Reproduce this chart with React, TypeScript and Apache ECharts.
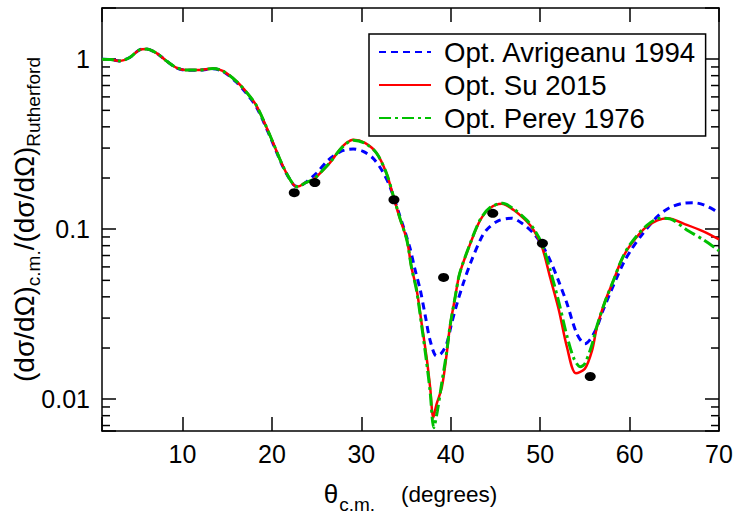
import React, { useEffect, useRef } from "react";
import * as echarts from "echarts";

const X_MIN = 1;
const X_MAX = 70;
const Y_MIN = 0.0065;
const Y_MAX = 2;

const suAngles = [1, 2, 2.97, 4.1, 5.2, 5.95, 7.1, 8.2, 9.3, 10.4, 11.9, 13.4, 14.5, 16.0, 17.2, 18.3, 19.9, 21.25, 22.4, 22.9, 23.7, 24.6, 25.6, 26.5, 27.6, 28.35, 29.1, 30.4, 31.7, 32.8, 33.6, 34.3, 35.1, 35.6, 36.2, 36.75, 37.3, 37.7, 38.05, 38.4, 39.0, 39.55, 39.9, 40.5, 41.0, 42.2, 43.3, 44.4, 45.7, 47.0, 48.5, 49.25, 50.2, 51.1, 52.1, 53.0, 54.0, 55.0, 55.8, 56.35, 57.3, 58.2, 59.1, 60.1, 61.9, 64.2, 66.4, 68.3, 70];
const suValues = [1.0, 0.995, 0.977, 1.023, 1.135, 1.146, 1.085, 0.977, 0.893, 0.864, 0.864, 0.881, 0.853, 0.744, 0.636, 0.53, 0.345, 0.234, 0.183, 0.178, 0.187, 0.195, 0.219, 0.246, 0.294, 0.322, 0.336, 0.322, 0.281, 0.214, 0.155, 0.116, 0.0863, 0.06, 0.0437, 0.0278, 0.0176, 0.0117, 0.0078, 0.0093, 0.0117, 0.0185, 0.0265, 0.04, 0.0549, 0.0826, 0.113, 0.133, 0.141, 0.13, 0.111, 0.099, 0.0788, 0.0524, 0.0333, 0.0202, 0.0142, 0.0151, 0.0193, 0.0265, 0.0382, 0.05, 0.0658, 0.0807, 0.1035, 0.116, 0.106, 0.0967, 0.087];

const pereyAngles = [1, 2, 2.97, 4.1, 5.2, 5.95, 7.1, 8.2, 9.3, 10.4, 11.9, 13.4, 14.5, 16.0, 17.2, 18.3, 19.9, 21.25, 22.4, 22.9, 23.7, 24.6, 25.6, 26.5, 27.6, 28.35, 29.1, 30.4, 31.7, 32.8, 33.6, 34.3, 35.1, 35.6, 36.2, 36.75, 37.3, 37.7, 38.1, 38.5, 39.0, 39.55, 39.9, 40.5, 41.0, 42.2, 43.3, 44.4, 45.8, 47.0, 48.5, 49.3, 50.2, 51.1, 52.1, 53.0, 53.8, 54.5, 55.0, 55.8, 56.35, 57.3, 58.2, 59.1, 60.1, 61.9, 63.4, 64.5, 66.4, 68.3, 70];
const pereyValues = [1.0, 0.995, 0.977, 1.023, 1.135, 1.146, 1.085, 0.977, 0.893, 0.864, 0.864, 0.881, 0.853, 0.744, 0.636, 0.53, 0.345, 0.234, 0.183, 0.177, 0.187, 0.196, 0.22, 0.247, 0.293, 0.32, 0.334, 0.32, 0.28, 0.214, 0.156, 0.117, 0.086, 0.06, 0.043, 0.027, 0.0165, 0.011, 0.0068, 0.0085, 0.0125, 0.019, 0.0265, 0.04, 0.055, 0.083, 0.114, 0.134, 0.142, 0.132, 0.113, 0.1, 0.082, 0.058, 0.037, 0.0235, 0.0172, 0.0155, 0.0162, 0.021, 0.027, 0.038, 0.05, 0.066, 0.082, 0.105, 0.116, 0.115, 0.099, 0.0863, 0.0746];

const avrAngles = [1, 2, 2.97, 4.1, 5.2, 5.95, 7.1, 8.2, 9.3, 10.4, 11.9, 13.4, 14.5, 16.0, 17.2, 18.3, 19.9, 21.25, 22.4, 22.9, 23.7, 25.0, 26.3, 27.6, 28.4, 29.1, 30.2, 31.3, 32.3, 33.2, 34.3, 35.4, 36.0, 36.6, 37.2, 37.7, 38.4, 38.9, 39.55, 40.1, 40.7, 41.4, 42.2, 43.3, 44.0, 45.3, 46.8, 48.0, 49.25, 50.2, 51.1, 52.1, 53.0, 54.1, 55.0, 55.6, 56.35, 57.0, 57.8, 59.3, 60.2, 61.2, 63.1, 64.5, 66.0, 67.2, 68.3, 69.8, 70];
const avrValues = [1.0, 0.995, 0.977, 1.023, 1.135, 1.146, 1.085, 0.977, 0.89, 0.862, 0.862, 0.878, 0.848, 0.735, 0.625, 0.52, 0.34, 0.232, 0.183, 0.178, 0.187, 0.214, 0.255, 0.285, 0.294, 0.296, 0.287, 0.262, 0.222, 0.178, 0.12, 0.0788, 0.058, 0.0437, 0.03, 0.0221, 0.018, 0.0185, 0.0212, 0.028, 0.0365, 0.048, 0.063, 0.0863, 0.099, 0.112, 0.116, 0.108, 0.0946, 0.081, 0.0658, 0.049, 0.0365, 0.0243, 0.0212, 0.0225, 0.0265, 0.033, 0.0418, 0.063, 0.076, 0.0903, 0.1186, 0.134, 0.142, 0.143, 0.139, 0.127, 0.125];

const expAngles = [22.5, 24.8, 33.65, 39.2, 44.7, 50.25, 55.6];
const expValues = [0.164, 0.188, 0.149, 0.052, 0.124, 0.0826, 0.0136];

const minorTickValues = [0.007, 0.008, 0.009, 0.02, 0.03, 0.04, 0.05, 0.06, 0.07, 0.08, 0.09, 0.2, 0.3, 0.4, 0.5, 0.6, 0.7, 0.8, 0.9];

const SERIES_NAMES = ["Opt. Avrigeanu 1994", "Opt. Su 2015", "Opt. Perey 1976"];

const FONT = "'Liberation Sans', Arial, Helvetica, sans-serif";

const zip = (xs: number[], ys: number[]) => xs.map((x, i) => [x, ys[i]]);

const yLabel = (v: number) => {
  const l = Math.log10(v);
  const e = Math.round(l);
  if (Math.abs(l - e) > 1e-6) return "";
  return e >= 0 ? String(Math.pow(10, e)) : Math.pow(10, e).toFixed(-e);
};

export default function App() {
  const ref = useRef<HTMLDivElement>(null);
  useEffect(() => {
    if (!ref.current) return;
    const chart = echarts.init(ref.current, undefined, { renderer: "svg" });
    const axisLine = { show: true, lineStyle: { color: "#000", width: 1.5 } };
    const tick = { show: true, inside: true, length: 14, lineStyle: { color: "#000", width: 1.5 } };
    chart.setOption({
      animation: false,
      backgroundColor: "#fff",
      grid: { left: 102, right: 18, top: 8, bottom: 85, containLabel: false, outerBoundsMode: "none" },
      legend: {
        data: SERIES_NAMES,
        orient: "vertical",
        left: 369,
        top: 34,
        itemWidth: 52,
        itemHeight: 14,
        itemGap: 3,
        padding: [3, 9, 3, 9],
        borderColor: "#000",
        borderWidth: 1.5,
        backgroundColor: "#fff",
        selectedMode: false,
        itemStyle: { opacity: 0 },
        textStyle: { fontSize: 27.6, fontFamily: FONT, color: "#000", padding: [0, 0, 0, 8], lineHeight: 30 },
      },
      xAxis: [
        {
          type: "value",
          min: X_MIN,
          max: X_MAX,
          minInterval: 10,
          maxInterval: 10,
          position: "bottom",
          axisLine,
          axisTick: tick,
          splitLine: { show: false },
          axisLabel: {
            fontSize: 25,
            fontFamily: FONT,
            color: "#000",
            margin: 10,
            formatter: (v: number) => (Math.abs(v % 10) < 1e-9 ? String(v) : ""),
          },
          name: "{t|θ}{s|c.m.}{m|(degrees)}",
          nameLocation: "middle",
          nameGap: 50,
          nameMoveOverlap: false,
          nameTextStyle: {
            color: "#000",
            fontFamily: FONT,
            rich: {
              t: { fontSize: 26, lineHeight: 26, fontFamily: FONT, color: "#000" },
              m: { fontSize: 22.5, lineHeight: 26, fontFamily: FONT, color: "#000", padding: [0, 0, 0, 26] },
              s: { fontSize: 19, lineHeight: 19, padding: [14, 0, 0, 1], verticalAlign: "top", fontFamily: FONT, color: "#000" },
            },
          },
        },
        {
          type: "value",
          min: X_MIN,
          max: X_MAX,
          minInterval: 10,
          maxInterval: 10,
          position: "top",
          axisLine,
          axisTick: tick,
          splitLine: { show: false },
          axisLabel: { show: false },
        },
      ],
      yAxis: [
        {
          type: "log",
          min: Y_MIN,
          max: Y_MAX,
          position: "left",
          axisLine,
          axisTick: tick,
          splitLine: { show: false },
          axisLabel: { fontSize: 25, fontFamily: FONT, color: "#000", margin: 12, formatter: yLabel },
          name: "{m|(dσ/dΩ)}{s|c.m.}{m|/(dσ/dΩ)}{s|Rutherford}",
          nameLocation: "middle",
          nameRotate: 90,
          nameGap: 64,
          nameMoveOverlap: false,
          nameTextStyle: {
            color: "#000",
            fontFamily: FONT,
            rich: {
              m: { fontSize: 28, lineHeight: 28, fontFamily: FONT, color: "#000" },
              s: { fontSize: 19, lineHeight: 19, padding: [14, 0, 0, 0], verticalAlign: "top", fontFamily: FONT, color: "#000" },
            },
          },
        },
        {
          type: "log",
          min: Y_MIN,
          max: Y_MAX,
          position: "right",
          axisLine,
          axisTick: tick,
          splitLine: { show: false },
          axisLabel: { show: false },
        },
      ],
      series: [
        {
          type: "custom",
          name: "minorTicks",
          silent: true,
          clip: false,
          xAxisIndex: 0,
          yAxisIndex: 0,
          data: minorTickValues.map((v) => [X_MIN, v]),
          encode: { x: 0, y: 1 },
          renderItem: (_p: any, api: any) => {
            const v = api.value(1);
            const l = api.coord([X_MIN, v]);
            const r = api.coord([X_MAX, v]);
            const st = { stroke: "#000", lineWidth: 1.5 };
            return {
              type: "group",
              children: [
                { type: "line", shape: { x1: l[0], y1: l[1], x2: l[0] + 8, y2: l[1] }, style: st },
                { type: "line", shape: { x1: r[0] - 8, y1: r[1], x2: r[0], y2: r[1] }, style: st },
              ],
            };
          },
        },
        {
          type: "line",
          name: SERIES_NAMES[0],
          data: zip(avrAngles, avrValues),
          showSymbol: false,
          symbol: "none",
          smooth: 0.3,
          lineStyle: { color: "#0000ff", width: 3, type: [7, 5] },
          itemStyle: { color: "#0000ff" },
          z: 3,
        },
        {
          type: "line",
          name: SERIES_NAMES[1],
          data: zip(suAngles, suValues),
          showSymbol: false,
          symbol: "none",
          smooth: 0.3,
          lineStyle: { color: "#ff0000", width: 2.5, type: "solid" },
          itemStyle: { color: "#ff0000" },
          z: 4,
        },
        {
          type: "line",
          name: SERIES_NAMES[2],
          data: zip(pereyAngles, pereyValues),
          showSymbol: false,
          symbol: "none",
          smooth: 0.3,
          lineStyle: { color: "#00c000", width: 3, type: [12, 4, 3, 4] },
          itemStyle: { color: "#00c000" },
          z: 5,
        },
        {
          type: "scatter",
          name: "Exp.",
          data: zip(expAngles, expValues),
          symbol: "circle",
          symbolSize: [11, 9],
          itemStyle: { color: "#000", opacity: 1 },
          z: 6,
        },
      ],
    });
    return () => chart.dispose();
  }, []);
  return <div ref={ref} style={{ position: "absolute", left: 0, top: 0, width: 737, height: 516 }} />;
}
